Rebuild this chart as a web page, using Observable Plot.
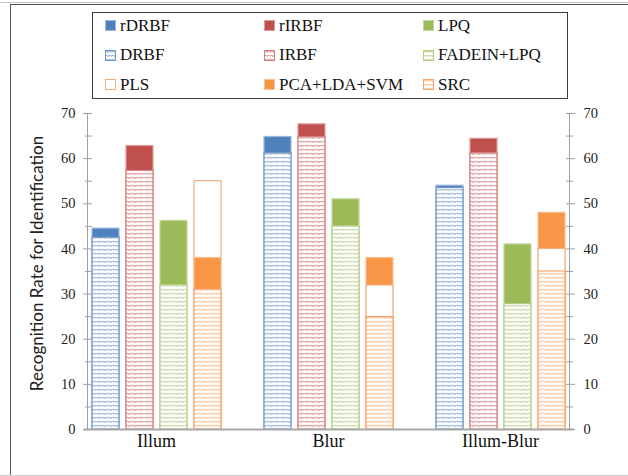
<!DOCTYPE html>
<html><head><meta charset="utf-8">
<script src="https://cdn.jsdelivr.net/npm/d3@7"></script>
<script src="https://cdn.jsdelivr.net/npm/@observablehq/plot@0.6"></script>
<style>
body{margin:0;background:#fff;}
#wrap{position:relative;width:628px;height:476px;overflow:hidden;background:#fff;}
.ln{position:absolute;}
#legend{position:absolute;left:92px;top:12px;width:474px;height:85px;border:1px solid #3c3c3c;font-family:"Liberation Serif",serif;font-size:17px;color:#111;background:#fff;z-index:2;}
#legend .grid{position:absolute;left:12px;top:-2px;display:grid;grid-template-columns:159px 159px 159px;grid-auto-rows:29.5px;}
.item{display:flex;align-items:center;white-space:nowrap;}
.item svg{margin-right:4px;flex:none;}
#chart{position:absolute;left:0;top:0;z-index:1;}
</style></head>
<body>
<svg width="0" height="0" style="position:absolute"><defs id="pdefs"></defs></svg>
<div id="wrap">
  <div class="ln" style="left:0;top:2px;width:628px;height:1px;background:#c8c8c8"></div>
  <div class="ln" style="left:10px;top:4px;width:618px;height:1px;background:#555"></div>
  <div class="ln" style="left:10px;top:4px;width:1px;height:472px;background:#555"></div>
  <div class="ln" style="left:0;top:475px;width:628px;height:1px;background:#d0d0d0"></div>
  <div id="legend"><div class="grid" id="lg"></div></div>
  <div id="chart"></div>
</div>
<script>
// ---- data ----
const groups = ["Illum", "Blur", "Illum-Blur"];
const methods = ["rDRBF", "rIRBF", "LPQ", "DRBF", "IRBF", "FADEIN+LPQ", "PLS", "PCA+LDA+SVM", "SRC"];
const slots = ["RBF-D", "RBF-I", "LPQ", "Other"];
const methodSlot = ["RBF-D", "RBF-I", "LPQ", "RBF-D", "RBF-I", "LPQ", "Other", "Other", "Other"];
const rDRBF = [44.5, 64.8, 54.0];
const rIRBF = [62.8, 67.6, 64.4];
const LPQ = [46.2, 51.0, 41.0];
const DRBF = [42.5, 61.2, 53.5];
const IRBF = [57.3, 64.8, 61.2];
const FADEIN_LPQ = [32.0, 45.0, 27.8];
const PLS = [55.0, 31.9, 40.0];
const PCA_LDA_SVM = [38.0, 38.0, 48.0];
const SRC = [31.0, 24.9, 35.0];
const seriesValues = [rDRBF, rIRBF, LPQ, DRBF, IRBF, FADEIN_LPQ, PLS, PCA_LDA_SVM, SRC];
const majorTicks = [0, 10, 20, 30, 40, 50, 60, 70];
const minorTicks = [5, 15, 25, 35, 45, 55, 65];

// ---- styles ----
const base = {blue: "#4F81BD", red: "#C0504D", green: "#9BBB59", orange: "#F79646"};
const fills = [base.blue, base.red, base.green, "url(#p-blue)", "url(#p-red)", "url(#p-green)", "#FFFFFF", base.orange, "url(#p-orange)"];
const strokes = ["#9DB7DA", "#DE9C9A", "#C3D79F", "#6F95C8", "#D47F7D", "#B4CC87", "#F5B07F", "#F9BE93", "#F6A46C"];

// patterns
const defs = document.getElementById("pdefs");
let ph = "";
for (const [k, c] of Object.entries(base)) {
  ph += `<pattern id="p-${k}" width="6" height="4" patternUnits="userSpaceOnUse">
    <rect width="6" height="4" fill="#fff"/>
    <path d="M0 2.6 L1.5 0.9 L3 2.6 L4.5 0.9 L6 2.6" fill="none" stroke="${c}" stroke-width="0.9" stroke-opacity="0.85"/>
  </pattern>`;
}
defs.innerHTML = ph;

// legend
const lg = document.getElementById("lg");
methods.forEach((m, j) => {
  const it = document.createElement("div");
  it.className = "item";
  it.innerHTML = `<svg width="11" height="11"><rect x="0.5" y="0.5" width="10" height="10" fill="${fills[j]}" stroke="${strokes[j]}" stroke-width="1"/></svg><span>${m}</span>`;
  lg.appendChild(it);
});

// data table
const data = [];
groups.forEach((g, i) => methods.forEach((m, j) => data.push({
  group: g, method: m, slot: methodSlot[j], value: seriesValues[j][i], fill: fills[j], stroke: strokes[j]
})));
const sorted = d3.sort(data, d => -d.value);

const tickColor = "#a0a0a0";
const chart = Plot.plot({
  width: 628, height: 476,
  marginLeft: 87, marginRight: 59, marginTop: 113, marginBottom: 47,
  style: {background: "transparent", fontFamily: "'Liberation Serif', serif", color: "#222", overflow: "visible"},
  fx: {domain: groups, paddingInner: 0.2, paddingOuter: 0, label: null},
  x: {domain: slots, paddingInner: 0.216, paddingOuter: 0.108, axis: null},
  y: {domain: [0, 70], label: null},
  color: {type: "identity"},
  marks: [
    Plot.barY(sorted, {fx: "group", x: "slot", y1: 0, y2: "value", fill: "fill", stroke: "stroke", strokeWidth: 1.2}),
    Plot.frame({anchor: "bottom", facet: "super", stroke: "#a8a8a8", strokeWidth: 2, insetLeft: -3, insetRight: -3}),
    Plot.frame({anchor: "left", facet: "super", stroke: tickColor}),
    Plot.frame({anchor: "right", facet: "super", stroke: tickColor}),
    Plot.axisY(majorTicks, {anchor: "left", tickSize: 0, tickPadding: 12, fontSize: 14.5, fill: "#222", label: null}),
    Plot.axisY(majorTicks, {anchor: "left", tickSize: 9, dx: 5, stroke: tickColor, fill: "none", label: null}),
    Plot.axisY(minorTicks, {anchor: "left", tickSize: 7, dx: 5, stroke: tickColor, fill: "none", label: null}),
    Plot.axisY(majorTicks, {anchor: "right", tickSize: 0, tickPadding: 14, fontSize: 14.5, fill: "#222", label: null}),
    Plot.axisY(majorTicks, {anchor: "right", tickSize: 9, dx: -4, stroke: tickColor, fill: "none", label: null}),
    Plot.axisY(minorTicks, {anchor: "right", tickSize: 7, dx: -4, stroke: tickColor, fill: "none", label: null}),
    Plot.axisFx({anchor: "bottom", tickSize: 0, tickPadding: 5, fontSize: 18, fill: "#111", label: null}),
    Plot.text(["Recognition Rate for Identification"], {text: d => d, frameAnchor: "left", textAnchor: "middle", rotate: -90, dx: -50, dy: -8, facet: "super", fontFamily: "Lato", fontSize: 17, fill: "#222"})
  ]
});
document.getElementById("chart").appendChild(chart);
</script>
</body></html>
